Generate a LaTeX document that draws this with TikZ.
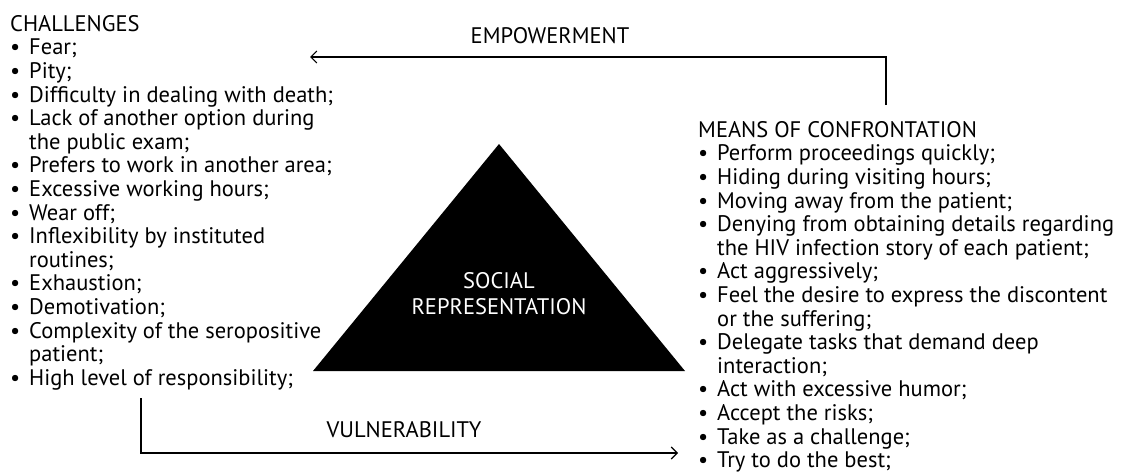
\documentclass[tikz,border=0pt]{standalone}
\usepackage{fontspec}
\setmainfont{PT Sans}
\usetikzlibrary{arrows.meta}
\newcommand\blt{\makebox[19pt][l]{•}}
\newcommand\ind{\makebox[19pt][l]{}}
\tikzset{
  listtext/.style={anchor=north west, inner sep=0pt, align=left, font=\fontsize{22.5}{23.6}\selectfont},
  lbl/.style={inner sep=0pt, font=\fontsize{22.5}{26}\selectfont},
  conn/.style={line width=1.1pt, -{Straight Barb[length=6pt,width=12pt,line width=1.1pt]}},
  tri/.style={fill=black, draw=none}
}
\begin{document}
\begin{tikzpicture}[x=1pt,y=-1pt]
\useasboundingbox[fill=white] (0,0) rectangle (1129,472);
% triangle
\filldraw[tri] (499,144) coordinate (apex) -- (313,371) coordinate (bl) -- (685,371) coordinate (br) -- cycle;
\node[lbl, text=white, align=center] (soc) at (499,294) {SOCIAL\\REPRESENTATION};
% left list
\node[listtext] (chal) at (10,15) {CHALLENGES\\
\blt Fear;\\
\blt Pity;\\
\blt Difficulty in dealing with death;\\
\blt Lack of another option during\\
\ind the public exam;\\
\blt Prefers to work in another area;\\
\blt Excessive working hours;\\
\blt Wear off;\\
\blt Inflexibility by instituted\\
\ind routines;\\
\blt Exhaustion;\\
\blt Demotivation;\\
\blt Complexity of the seropositive\\
\ind patient;\\
\blt High level of responsibility;};
% right list
\node[listtext] (means) at (698,121) {MEANS OF CONFRONTATION\\
\blt Perform proceedings quickly;\\
\blt Hiding during visiting hours;\\
\blt Moving away from the patient;\\
\blt Denying from obtaining details regarding\\
\ind the HIV infection story of each patient;\\
\blt Act aggressively;\\
\blt Feel the desire to express the discontent\\
\ind or the suffering;\\
\blt Delegate tasks that demand deep\\
\ind interaction;\\
\blt Act with excessive humor;\\
\blt Accept the risks;\\
\blt Take as a challenge;\\
\blt Try to do the best;};
% connectors
\coordinate (e1) at (886,105);
\coordinate (e2) at (310,57);
\draw[conn] (e1) |- (e2);
\node[lbl] (emp) at (550,36) {EMPOWERMENT};
\coordinate (v1) at (141,398);
\coordinate (v2) at (678,453);
\draw[conn] (v1) |- (v2);
\node[lbl] (vul) at (404,430) {VULNERABILITY};
\end{tikzpicture}
\end{document}
